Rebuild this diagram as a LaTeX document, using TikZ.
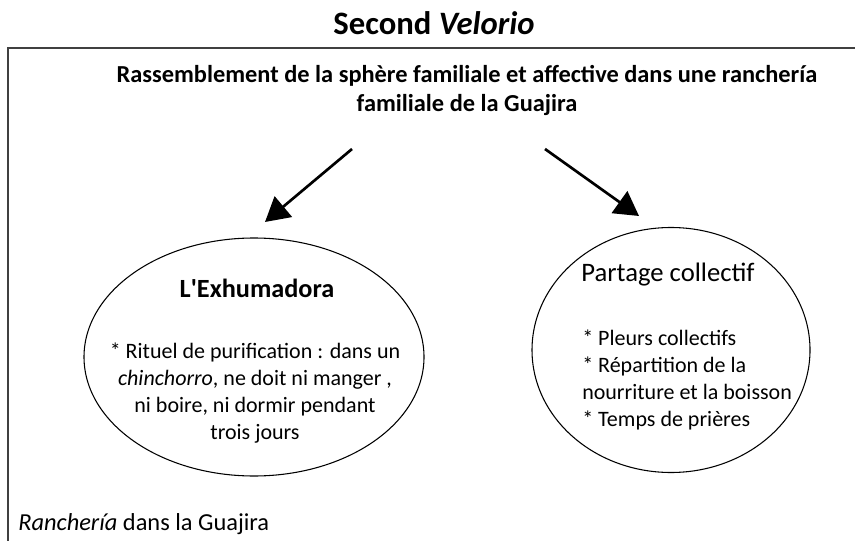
\documentclass[tikz,border=0pt]{standalone}
\usepackage{fontspec}
\setmainfont{Carlito}
\usetikzlibrary{arrows.meta,shapes.geometric}

\begin{document}
\begin{tikzpicture}[x=0.75pt,y=-0.75pt,>={Triangle[length=18pt,width=20pt]},
    rond/.style={draw,ellipse,line width=0.8pt,inner sep=0pt},
    corps/.style={font=\fontsize{16.5}{20.2}\selectfont,inner sep=0pt}]
    \useasboundingbox (0,0) rectangle (855,541);

    % Title
    \node[font=\fontsize{24.5}{29}\selectfont\bfseries] (titre) at (434,23) {Second \textit{Velorio}};

    % Frame
    \draw[line width=0.8pt,black!75] (855,48) -- (8,48) -- (8,541);

    % Gathering
    \node[font=\fontsize{18.3}{22.2}\selectfont\bfseries,align=center] (rassemblement) at (467,90.5)
        {Rassemblement de la sphère familiale et affective dans une ranchería\\familiale de la Guajira};

    % Arrows
    \coordinate (g0) at (352,149);
    \coordinate (g1) at (265,222);
    \coordinate (d0) at (545,149);
    \coordinate (d1) at (639,216);
    \draw[->,line width=2pt] (g0) -- (g1);
    \draw[->,line width=2pt] (d0) -- (d1);

    % Ellipses
    \node[rond,minimum width=255pt,minimum height=178.5pt] (exhumadora) at (254,357) {};
    \node[rond,minimum width=208.5pt,minimum height=183.75pt] (partage) at (671,350) {};

    % Left ellipse text
    \node[font=\fontsize{19.7}{24}\selectfont\bfseries] (exhtitre) at (257,288)
        {L{\addfontfeatures{Ligatures=TeXOff}\symbol{39}}Exhumadora};
    \node[corps,align=center] (rituel) at (255,393)
        {* Rituel de purification : dans un\\\textit{chinchorro}, ne doit ni manger ,\\ni boire, ni dormir pendant\\trois jours};

    % Right ellipse text
    \node[font=\fontsize{20}{24}\selectfont] (partitre) at (668,275) {Partage collectif};
    \node[corps,align=left,anchor=west] (pleurs) at (582,380)
        {* Pleurs collectifs\\* Répartition de la\\nourriture et la boisson\\* Temps de prières};

    % Caption
    \node[font=\fontsize{18.3}{22}\selectfont,inner sep=0pt,anchor=west] (rancheria) at (18,524)
        {\textit{Ranchería} dans la Guajira};
\end{tikzpicture}
\end{document}
